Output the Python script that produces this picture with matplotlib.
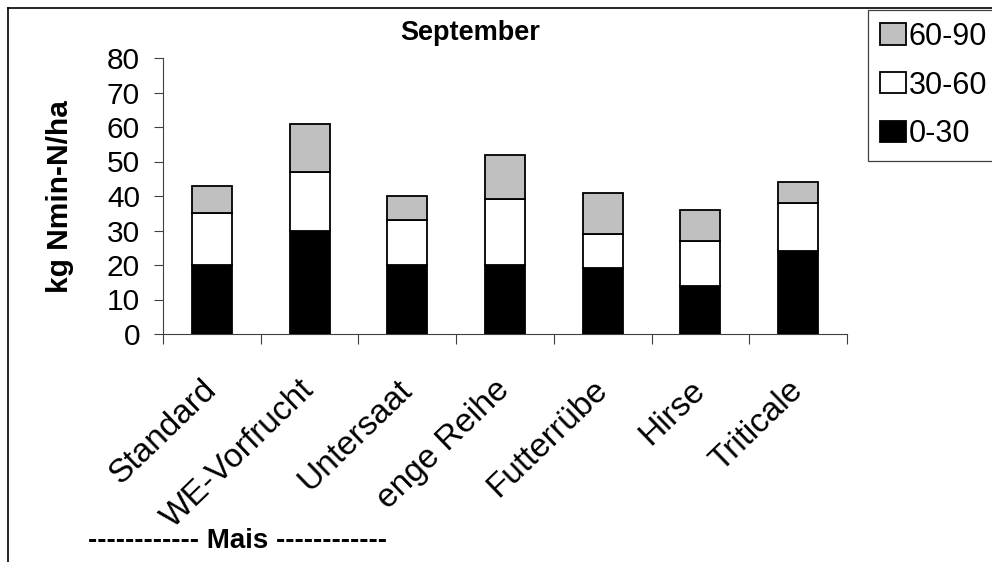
import matplotlib
matplotlib.use("Agg")
import matplotlib.pyplot as plt
from matplotlib.patches import Patch
from matplotlib.lines import Line2D
from matplotlib.transforms import ScaledTranslation
import numpy as np

plt.rcParams['font.family'] = ['Liberation Sans', 'DejaVu Sans']

categories = ["Standard", "WE-Vorfrucht", "Untersaat", "enge Reihe",
              "Futterrübe", "Hirse", "Triticale"]
layer_0_30 = [20, 30, 20, 20, 19, 14, 24]
layer_30_60 = [15, 17, 13, 19, 10, 13, 14]
layer_60_90 = [8, 14, 7, 13, 12, 9, 6]
series_labels = ["0-30", "30-60", "60-90"]
series_colors = ["#000000", "#FFFFFF", "#C0C0C0"]
y_ticks = [0, 10, 20, 30, 40, 50, 60, 70, 80]

W, H = 992, 562
fig = plt.figure(figsize=(W / 100, H / 100), dpi=100)
ax = fig.add_axes([163 / W, 1 - 334 / H, (847 - 163) / W, (334 - 58) / H])

x = np.arange(len(categories))
bottom = np.zeros(len(categories))
for vals, col, lab in zip([layer_0_30, layer_30_60, layer_60_90],
                          series_colors, series_labels):
    ax.bar(x, vals, bottom=bottom, width=0.41, color=col,
           edgecolor="black", linewidth=1.3, label=lab, zorder=3)
    bottom += np.array(vals)

ax.set_xlim(-0.5, len(categories) - 0.5)
ax.set_ylim(0, 80)
ax.set_yticks(y_ticks)
ax.set_yticklabels([str(v) for v in y_ticks], fontsize=21.5)

# category separators as ticks, names centred between them
ax.set_xticks(np.arange(-0.5, len(categories), 1.0))
ax.set_xticklabels([])
ax.set_xticks(x, minor=True)
ax.set_xticklabels(categories, minor=True, rotation=44, ha="right",
                   va="top", rotation_mode="anchor", fontsize=24)
ax.tick_params(axis="x", which="minor", length=0, pad=29)
ax.tick_params(axis="x", which="major", length=7.5, width=0.8,
               color="#404040", direction="out")
ax.tick_params(axis="y", length=6.5, width=0.8, color="#404040",
               pad=10, direction="out")
shift = ScaledTranslation(-0.11, 0, fig.dpi_scale_trans)
for lbl in ax.get_xticklabels(minor=True):
    lbl.set_transform(lbl.get_transform() + shift)

for s in ["top", "right"]:
    ax.spines[s].set_visible(False)
for s in ["left", "bottom"]:
    ax.spines[s].set_color("#404040")
    ax.spines[s].set_linewidth(0.8)

ax.set_ylabel("kg Nmin-N/ha", fontsize=21.5, fontweight="bold")
ax.yaxis.set_label_coords(60 / W, 1 - 197 / H, transform=fig.transFigure)
ax.yaxis.label.set_va("center")

fig.text(470 / W, 1 - 33 / H, "September", fontsize=19.5, fontweight="bold",
         ha="center", va="center")
fig.text(238 / W, 1 - 541 / H, "------------ Mais ------------",
         fontsize=20, fontweight="bold", ha="center", va="center")

handles = [Patch(facecolor=c, edgecolor="black", linewidth=1.3)
           for c in series_colors[::-1]]
leg = fig.legend(handles, series_labels[::-1], loc="upper left",
                 bbox_to_anchor=(868 / W, 1 - 10 / H), borderaxespad=0,
                 fontsize=22, handlelength=0.85, handleheight=0.69,
                 handletextpad=0.1, labelspacing=0.62, borderpad=0.38,
                 fancybox=False, framealpha=1)
leg.get_frame().set_edgecolor("#404040")
leg.get_frame().set_linewidth(0.9)

# outer frame lines
fig.add_artist(Line2D([8 / W, 1], [1 - 8 / H, 1 - 8 / H], color="black",
                      linewidth=1.2, transform=fig.transFigure))
fig.add_artist(Line2D([8 / W, 8 / W], [0, 1 - 8 / H], color="black",
                      linewidth=1.2, transform=fig.transFigure))

fig.savefig("out.png", dpi=100)
